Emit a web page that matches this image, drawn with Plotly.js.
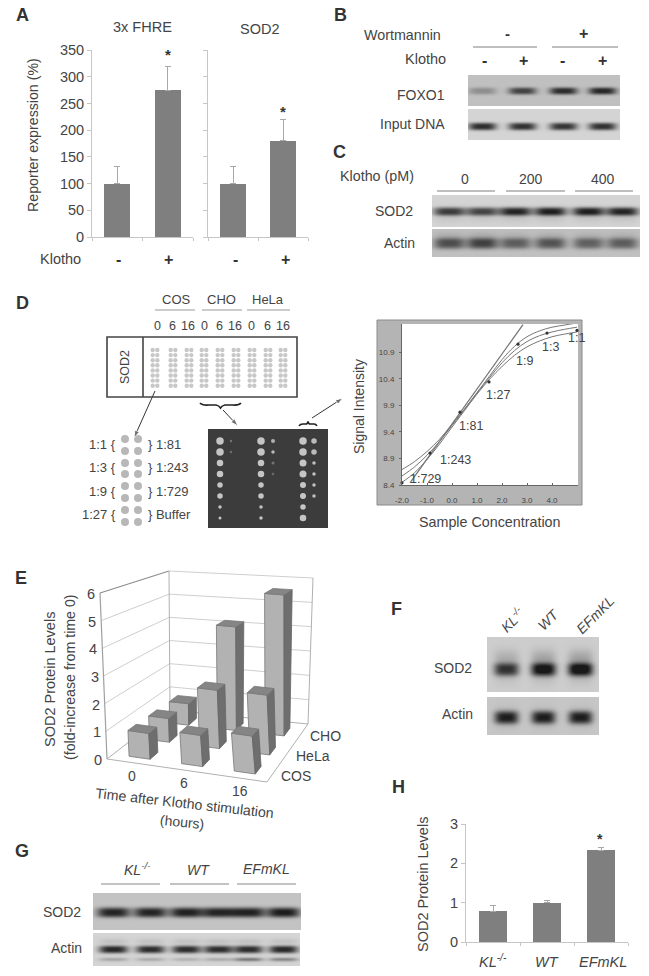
<!DOCTYPE html>
<html><head><meta charset="utf-8">
<script src="https://cdn.plot.ly/plotly-3.0.1.min.js"></script>
<style>html,body{margin:0;padding:0;background:#fff}</style></head>
<body><div id="chart" style="width:649px;height:976px"></div>
<script>
// ---- data ----
const klothoLabels = ['-', '+'];
const fhreValues = [100, 275];
const fhreErrors = [32, 45];
const sod2Values = [100, 180];
const sod2Errors = [32, 40];
const hCategories = ['KL-/-', 'WT', 'EFmKL'];
const hValues = [0.78, 1.0, 2.33];
const hErrors = [0.16, 0.05, 0.07];

const eTimes = ['0', '6', '16'];
const eLines = ['COS', 'HeLa', 'CHO'];
const eCOS = [0.95, 1.15, 1.4];
const eHeLa = [0.92, 2.25, 2.3];
const eCHO = [0.88, 4.2, 5.65];

const curveX = [-2, -1.5, -1, -0.5, 0, 0.5, 1, 1.5, 2, 2.5, 3, 3.5, 4, 4.5, 5];
const curveMid = [8.57, 8.74, 8.96, 9.22, 9.52, 9.82, 10.13, 10.42, 10.70, 10.93, 11.10, 11.21, 11.28, 11.33, 11.37];
const curveUp = [8.69, 8.84, 9.03, 9.26, 9.54, 9.83, 10.14, 10.45, 10.76, 11.01, 11.19, 11.30, 11.37, 11.41, 11.45];
const curveLow = [8.45, 8.63, 8.88, 9.17, 9.49, 9.80, 10.11, 10.39, 10.63, 10.84, 11.00, 11.11, 11.19, 11.24, 11.28];
const fitX = [-1.68, 2.84];
const fitY = [8.44, 11.42];
const dilutionX = [-2.0, -0.88, 0.32, 1.48, 2.64, 3.8, 5.0];
const dilutionY = [8.44, 9.0, 9.77, 10.34, 11.05, 11.26, 11.31];
const dilutionLabels = ['1:729', '1:243', '1:81', '1:27', '1:9', '1:3', '1:1'];

const spotSizes = [
  [7.5, 7.5, 6.5, 6.5, 5.5, 5.5, 3.5, 3],
  [2.5, 2.5, 1, 1, 0, 0, 0, 0],
  [7.5, 7.5, 6.5, 6.5, 5.5, 5.5, 3.5, 3.5],
  [4, 3.5, 3, 2.5, 0, 0, 0, 0],
  [7.5, 7.5, 7, 7, 6, 6, 5.5, 6.5],
  [5.5, 5.5, 3.5, 3.5, 3.5, 3.5, 0, 0]
];
const spotGrey = [
  [255, 255, 255, 255, 255, 255, 255, 255],
  [140, 130, 80, 80, 0, 0, 0, 0],
  [255, 255, 255, 255, 255, 255, 255, 255],
  [225, 235, 140, 130, 0, 0, 0, 0],
  [255, 255, 255, 255, 255, 255, 255, 255],
  [240, 240, 250, 250, 250, 250, 0, 0]
];

const bFoxo = [0.32, 0.8, 0.95, 0.98];
const bInput = [0.95, 0.92, 0.9, 0.92];
const cSod = [0.8, 0.75, 0.92, 0.95, 0.95, 0.92];
const cActin = [0.72, 0.8, 0.62, 0.68, 0.6, 0.62];
const fSod = [0.78, 1.0, 1.05];
const fActin = [0.95, 0.95, 0.95];
const gSod = [1.0, 1.0, 1.02, 1.0, 1.02, 1.05];
const gActin = [0.98, 0.95, 0.95, 0.95, 0.95, 0.98];
const gFaint = [0.25, 0.22, 0.18, 0.22, 0.5, 0.42];

// ---- helpers ----
const W = 649, H = 976;
const TXT = '#444444', FONT = '"Liberation Sans", Arial, sans-serif';
const annotations = [], shapes = [], traces = [];
function T(text, x, y, size, o) {
  o = o || {};
  annotations.push({text, x, y, xref: 'x', yref: 'y', showarrow: false, xanchor: o.anchor || 'center', yanchor: 'middle',
    textangle: o.angle || 0, font: {family: FONT, size: size || 14, color: o.color || TXT}});
}
function L(x0, y0, x1, y1, color, width) {
  shapes.push({type: 'line', xref: 'x', yref: 'y', x0, y0, x1, y1, line: {color: color || '#808080', width: width || 1.2}});
}
function arrow(fx, fy, tx, ty) {
  traces.push({type: 'scatter', mode: 'lines+markers', x: [fx, tx], y: [fy, ty], xaxis: 'x', yaxis: 'y', line: {color: '#333', width: 1},
    marker: {size: [0, 8], symbol: 'arrow', angleref: 'previous', color: '#333'}, hoverinfo: 'skip'});
}
function blot(x0, x1, y0, y1, bg, strengths, lanes, yc, wx, wy, extras) {
  const z = [];
  for (let y = y0; y < y1; y++) {
    const row = [];
    for (let x = x0; x < x1; x++) {
      let v = bg;
      strengths.forEach((s, i) => {
        const gx = Math.exp(-Math.pow(Math.abs(x - lanes[i]) / wx, 3.5));
        v -= s * (bg - 35) * gx * Math.exp(-Math.pow(Math.abs(y - yc) / wy, 2.8));
        (extras || []).forEach(e => {
          const f = e.strengths ? e.strengths[i] : s * e.f;
          v -= f * (bg - 35) * gx * Math.exp(-Math.pow((y - yc - e.dy) / e.wy, 2));
        });
      });
      row.push(Math.max(25, v));
    }
    z.push(row);
  }
  traces.push({type: 'heatmap', z, x0: x0 + 0.5, dx: 1, y0: y0 + 0.5, dy: 1, xaxis: 'x', yaxis: 'y', zmin: 0, zmax: 255,
    colorscale: [[0, '#000000'], [1, '#ffffff']], showscale: false, hoverinfo: 'skip'});
}
function dom(a, b, size) { return [a / size, b / size]; }
function yDom(top, bottom) { return [(H - bottom) / H, (H - top) / H]; }

// ---- panel letters ----
[['A', 22, 15], ['B', 340, 15], ['C', 339, 152], ['D', 22, 303], ['E', 21, 578], ['F', 396, 609], ['G', 22, 851], ['H', 398, 787]]
  .forEach(p => T('<b>' + p[0] + '</b>', p[1], p[2], 18, {color: '#333'}));

// ---- A ----
const valAxis = {showgrid: false, zeroline: false, showline: true, linecolor: '#c6c6c6', ticks: 'outside', ticklen: 4, tickcolor: '#c6c6c6',
  tickfont: {family: FONT, size: 14.5, color: TXT}};
const catAxis = {showgrid: false, zeroline: false, showline: true, linecolor: '#c6c6c6', ticks: 'outside', ticklen: 3, tickcolor: '#c6c6c6', showticklabels: false, tickmode: 'array'};
function barTrace(cats, vals, errs, xa, ya) {
  traces.push({type: 'bar', x: cats.map((c, i) => i), y: vals, xaxis: xa, yaxis: ya, width: 0.515, marker: {color: '#7f7f7f'},
    error_y: {type: 'data', symmetric: false, array: errs, arrayminus: errs.map(() => 0), color: '#a8a8a8', thickness: 1, width: 3}, hoverinfo: 'skip'});
}
barTrace(klothoLabels, fhreValues, fhreErrors, 'x2', 'y2');
barTrace(klothoLabels, sod2Values, sod2Errors, 'x3', 'y3');
T('3x FHRE', 142, 27, 14.5); T('SOD2', 260, 29, 14.5);
T('Reporter expression (%)', 33, 135, 14.2, {angle: -90});
T('Klotho', 60, 259, 14.5);
[118, 168, 235, 285].forEach((x, i) => T('<b>' + klothoLabels[i % 2] + '</b>', x, 259, 16, {color: '#333'}));
T('<b>*</b>', 168, 54, 15, {color: '#333'}); T('<b>*</b>', 283, 111, 15, {color: '#333'});

// ---- B ----
blot(468, 620, 75, 106, 192, bFoxo, [482, 522, 563, 602], 90.5, 14, 3.6);
blot(468, 620, 109, 140, 212, bInput, [482, 522, 563, 602], 126, 14, 3.8);
T('Wortmannin', 402, 35, 14.3);
T('<b>-</b>', 507, 33, 15, {color: '#333'}); T('<b>+</b>', 583, 33, 16, {color: '#333'});
L(473, 47, 537, 47); L(552, 47, 618, 47);
T('Klotho', 425, 59, 14.5);
[484, 523, 562, 602].forEach((x, i) => T('<b>' + klothoLabels[i % 2] + '</b>', x, 60, 16, {color: '#333'}));
T('FOXO1', 421, 95, 14); T('Input DNA', 412, 124, 14);

// ---- C ----
const cLanes = [449, 482, 515, 550, 588, 622];
blot(432, 640, 195, 227, 212, cSod, cLanes, 211, 16, 4.2, [{dy: 4, wy: 7, f: 0.12}]);
blot(432, 640, 229, 257, 192, cActin, cLanes, 243, 15.5, 5.5, [{dy: -7, wy: 5, f: 0.15}]);
T('Klotho (pM)', 377, 176, 14.3);
['0', '200', '400'].forEach((t, i) => T(t, [465, 531, 603][i], 179, 14));
L(437, 191, 495, 191); L(506, 191, 565, 191); L(575, 191, 633, 191);
T('SOD2', 394, 211, 14); T('Actin', 399, 243, 14);

// ---- D schematic ----
['COS', 'CHO', 'HeLa'].forEach((t, i) => T(t, [176, 221, 268][i], 299, 13));
L(155, 310, 195, 310, '#999'); L(202, 310, 242, 310, '#999'); L(247, 310, 290, 310, '#999');
['0', '6', '16', '0', '6', '16', '0', '6', '16'].forEach((t, i) => T(t, [157, 172, 188, 204, 219, 235, 251, 267, 283][i], 326, 12.5));
shapes.push({type: 'rect', xref: 'x', yref: 'y', x0: 107, x1: 297, y0: 337, y1: 397, line: {color: '#444', width: 1.6}});
L(143, 337, 143, 397, '#444', 1.6);
T('SOD2', 125, 367, 12.5, {angle: -90});
const gx = [], gy = [];
[155, 173, 189, 204, 220, 236, 252, 268, 283].forEach(c => [-2.3, 2.3].forEach(d => {
  for (let r = 0; r < 8; r++) { gx.push(c + d); gy.push(350 + r * 5.1); }
}));
traces.push({type: 'scatter', mode: 'markers', x: gx, y: gy, xaxis: 'x', yaxis: 'y', marker: {size: 4.4, color: '#c8c8c8'}, hoverinfo: 'skip'});
const lx = [], ly = [];
[125, 138].forEach(c => [439, 451, 463, 474, 486, 498, 510, 522].forEach(y => { lx.push(c); ly.push(y); }));
traces.push({type: 'scatter', mode: 'markers', x: lx, y: ly, xaxis: 'x', yaxis: 'y', marker: {size: 8, color: '#b8b8b8'}, hoverinfo: 'skip'});
['1:1 {', '1:3 {', '1:9 {', '1:27 {'].forEach((t, i) => T(t, 118, 444 + i * 23.5, 13, {anchor: 'right'}));
['} 1:81', '} 1:243', '} 1:729', '} Buffer'].forEach((t, i) => T(t, 146, 444 + i * 23.5, 13, {anchor: 'left'}));
arrow(155, 391, 134, 438); arrow(223, 410, 238, 426); arrow(312, 418, 343, 398);
shapes.push({type: 'path', xref: 'x', yref: 'y', line: {color: '#222', width: 1.6},
  path: 'M200 403 Q202 405.5 209 405 L216 405 Q219 405.5 220.5 408 Q222 405.5 225 405 L233 405 Q239 405.5 241 403'});
shapes.push({type: 'path', xref: 'x', yref: 'y', line: {color: '#222', width: 1.6},
  path: 'M299 426 Q300 424 303 424 L306 424 Q307.5 424 308 421.5 Q308.5 424 310 424 L314 424 Q316 424 317 426'});
// dark membrane
shapes.push({type: 'rect', xref: 'x', yref: 'y', x0: 208, x1: 328, y0: 429, y1: 528, layer: 'below', fillcolor: '#3c3c3c', line: {width: 0}});
const spotCols = [220, 231, 261, 273, 303, 314], spotRows = [441, 452, 463, 474, 485, 496, 507, 518];
spotSizes.forEach((col, c) => {
  const xs = [], ys = [], ss = [], cs = [];
  col.forEach((s, r) => { if (s > 0) { xs.push(spotCols[c]); ys.push(spotRows[r]); ss.push(s); const g = spotGrey[c][r]; cs.push('rgb(' + g + ',' + g + ',' + g + ')'); } });
  traces.push({type: 'scatter', mode: 'markers', x: xs, y: ys, xaxis: 'x', yaxis: 'y', marker: {size: ss, color: cs, line: {width: 0}}, hoverinfo: 'skip'});
});

// ---- D curve ----
shapes.push({type: 'rect', xref: 'x', yref: 'y', x0: 377, x1: 582, y0: 320, y1: 505, layer: 'below', fillcolor: '#b4b4b4', line: {color: '#8a8a8a', width: 1}});
shapes.push({type: 'rect', xref: 'x', yref: 'y', x0: 402, x1: 578, y0: 324, y1: 485, layer: 'below', fillcolor: '#ffffff', line: {width: 0}});
[curveUp, curveMid, curveLow].forEach(c => traces.push({type: 'scatter', mode: 'lines', x: curveX, y: c, xaxis: 'x5', yaxis: 'y5', line: {color: '#777', width: 1, shape: 'spline'}, hoverinfo: 'skip'}));
traces.push({type: 'scatter', mode: 'lines', x: fitX, y: fitY, xaxis: 'x5', yaxis: 'y5', line: {color: '#777', width: 1.3}, hoverinfo: 'skip'});
traces.push({type: 'scatter', mode: 'markers', x: dilutionX, y: dilutionY, xaxis: 'x5', yaxis: 'y5', marker: {size: 3.2, color: '#333'}, hoverinfo: 'skip', cliponaxis: false});
[[425, 479], [455, 460], [471, 426], [498, 395], [524, 361], [550, 347], [576, 338]].forEach((p, i) => T(dilutionLabels[i], p[0], p[1], 12.5));
T('Signal Intensity', 359, 407, 14, {angle: -90});
T('Sample Concentration', 490, 522, 14.3);

// ---- E pseudo-3D ----
const F00 = [107, 759], F30 = [267, 782], F03 = [170, 710], F33 = [308, 724];
const T00 = [100, 593], T30 = [251, 618], T03 = [169, 571], T33 = [313, 578];
function bil(a, b, c, d, u, v) { // a:00 b:30 c:03 d:33
  const s = u / 3, t = v / 3;
  return [0, 1].map(k => (1 - s) * (1 - t) * a[k] + s * (1 - t) * b[k] + (1 - s) * t * c[k] + s * t * d[k]);
}
function P(u, v, z) {
  const f = bil(F00, F30, F03, F33, u, v), g = bil(T00, T30, T03, T33, u, v), q = z / 6;
  return [f[0] + (g[0] - f[0]) * q, f[1] + (g[1] - f[1]) * q];
}
function poly(pts, fill, line, w) {
  const c = pts.concat([pts[0]]);
  traces.push({type: 'scatter', mode: 'lines', x: c.map(p => p[0]), y: c.map(p => p[1]), xaxis: 'x', yaxis: 'y', fill: 'toself', fillcolor: fill,
    line: {color: line, width: w === undefined ? 0.8 : w}, hoverinfo: 'skip'});
}
function seg(a, b, color, w) {
  traces.push({type: 'scatter', mode: 'lines', x: [a[0], b[0]], y: [a[1], b[1]], xaxis: 'x', yaxis: 'y', line: {color, width: w || 1}, hoverinfo: 'skip'});
}
for (let z = 1; z <= 6; z++) { seg(P(0, 0, z), P(0, 3, z), z === 6 ? '#8c8c8c' : '#cfcfcf', z === 6 ? 1.2 : 1); seg(P(0, 3, z), P(3, 3, z), '#cfcfcf', 1); }
seg(P(0, 3, 0), P(0, 3, 6), '#b0b0b0'); seg(P(3, 3, 0), P(3, 3, 6), '#b0b0b0');
seg(P(0, 0, 0), P(0, 0, 6), '#a0a0a0', 1.2);
seg(P(0, 0, 0), P(3, 0, 0), '#b0b0b0'); seg(P(3, 0, 0), P(3, 3, 0), '#b0b0b0'); seg(P(0, 0, 0), P(0, 3, 0), '#b0b0b0'); seg(P(0, 3, 0), P(3, 3, 0), '#b0b0b0');
[eCHO, eHeLa, eCOS].forEach((vals, r) => {
  const v = 2.5 - r;
  vals.forEach((h, i) => {
    const u = i + 0.5, a = 0.2, b = 0.2;
    poly([P(u - a, v - b, h), P(u + a, v - b, h), P(u + a, v - b, 0), P(u - a, v - b, 0)], '#b2b2b2', '#777');
    poly([P(u + a, v - b, h), P(u + a, v + b, h), P(u + a, v + b, 0), P(u + a, v - b, 0)], '#6e6e6e', '#666');
    poly([P(u - a, v - b, h), P(u - a, v + b, h), P(u + a, v + b, h), P(u + a, v - b, h)], '#858585', '#777');
  });
});
for (let z = 0; z <= 6; z++) { const p = P(0, 0, z); T(String(z), p[0] - 9, p[1] + 1, 14.5); }
[[132, 776], [184, 783], [240, 791]].forEach((p, i) => T(eTimes[i], p[0], p[1], 14));
[[296, 776], [313, 756], [325, 736]].forEach((p, i) => T(eLines[i], p[0], p[1], 14));
T('Time after Klotho stimulation', 184, 803, 14.2, {angle: 6.5});
T('(hours)', 182, 822, 14, {angle: 6});
T('SOD2 Protein Levels', 50, 680, 14.5, {angle: -90});
T('(fold-increase from time 0)', 70, 677, 14.2, {angle: -90});

// ---- F ----
const fLanes = [506, 543, 580];
blot(487, 599, 637, 692, 205, fSod, fLanes, 669, 12.5, 6.5, [{dy: -11, wy: 9, f: 0.22}, {dy: 3, wy: 11, f: 0.15}]);
blot(487, 599, 697, 735, 198, fActin, fLanes, 717, 12, 6.5, [{dy: 0, wy: 11, f: 0.1}]);
T('<i>KL<sup>-/-</sup></i>', 512, 620, 14, {angle: -45});
T('<i>WT</i>', 548, 620, 14, {angle: -45});
T('<i>EFmKL</i>', 595, 615, 14, {angle: -45});
T('SOD2', 453, 668, 14); T('Actin', 457, 714, 14);

// ---- H ----
barTrace(hCategories, hValues, hErrors, 'x4', 'y4');
T('SOD2 Protein Levels', 423, 885, 14.5, {angle: -90});
T('<i>KL<sup>-/-</sup></i>', 493, 961, 14.5); T('<i>WT</i>', 547, 962, 14.5); T('<i>EFmKL</i>', 603, 962, 14.5);
T('<b>*</b>', 600, 839, 14, {color: '#333'});

// ---- G ----
const gLanes = [113, 150, 186, 218, 248, 283];
blot(93, 301, 893, 930, 195, gSod, gLanes, 912, 16.5, 5);
blot(93, 300, 933, 966, 212, gActin, gLanes, 949, 14.5, 3.8, [{dy: -8, wy: 3, f: 0.1}, {dy: 10, wy: 2, strengths: gFaint}]);
T('<i>KL<sup>-/-</sup></i>', 137, 869, 14); T('<i>WT</i>', 198, 870, 14); T('<i>EFmKL</i>', 266, 869, 14);
L(101, 884, 160, 884, '#888'); L(170, 884, 229, 884, '#888'); L(237, 884, 296, 884, '#888');
T('SOD2', 62, 912, 14); T('Actin', 66, 948, 14);

// ---- layout ----
const layout = {
  width: W, height: H, margin: {l: 0, r: 0, t: 0, b: 0}, paper_bgcolor: '#fff', plot_bgcolor: 'rgba(0,0,0,0)', showlegend: false,
  annotations, shapes, bargap: 0,
  xaxis: {domain: [0, 1], range: [0, W], visible: false, fixedrange: true},
  yaxis: {domain: [0, 1], range: [H, 0], visible: false, fixedrange: true},
  xaxis2: Object.assign({}, catAxis, {domain: dom(92, 193, W), range: [-0.5, 1.5], tickvals: [-0.5, 0.5, 1.5], anchor: 'y2'}),
  yaxis2: Object.assign({}, valAxis, {domain: yDom(50, 237), range: [0, 350], tickvals: [0, 50, 100, 150, 200, 250, 300, 350], anchor: 'x2'}),
  xaxis3: Object.assign({}, catAxis, {domain: dom(208, 308, W), range: [-0.5, 1.5], tickvals: [-0.5, 0.5, 1.5], anchor: 'y3'}),
  yaxis3: Object.assign({}, valAxis, {domain: yDom(50, 237), range: [0, 350], tickvals: [0, 50, 100, 150, 200, 250, 300, 350], showticklabels: false, anchor: 'x3'}),
  xaxis4: Object.assign({}, catAxis, {domain: dom(466, 628, W), range: [-0.5, 2.5], tickvals: [-0.5, 0.5, 1.5, 2.5], anchor: 'y4'}),
  yaxis4: Object.assign({}, valAxis, {domain: yDom(824, 942), range: [0, 3], tickvals: [0, 1, 2, 3], anchor: 'x4'}),
  xaxis5: {domain: dom(402, 578, W), range: [-2, 5.04], anchor: 'y5', showgrid: false, zeroline: false, showline: true, linecolor: '#666', mirror: false,
    tickvals: [-2, -1, 0, 1, 2, 3, 4], ticktext: ['-2.0', '-1.0', '0.0', '1.0', '2.0', '3.0', '4.0'], ticks: 'inside', ticklen: 2, tickcolor: '#666',
    ticklabelstandoff: 7, tickfont: {family: FONT, size: 8, color: '#444'}},
  yaxis5: {domain: yDom(324, 485), range: [8.4, 11.43], anchor: 'x5', showgrid: false, zeroline: false, showline: true, linecolor: '#666',
    tickvals: [8.4, 8.9, 9.4, 9.9, 10.4, 10.9], ticktext: ['8.4', '8.9', '9.4', '9.9', '10.4', '10.9'], ticks: 'outside', ticklen: 2, tickcolor: '#666',
    ticklabelstandoff: 3, tickfont: {family: FONT, size: 8, color: '#444'}}
};
Plotly.newPlot('chart', traces, layout, {displayModeBar: false, staticPlot: true});
</script></body></html>
